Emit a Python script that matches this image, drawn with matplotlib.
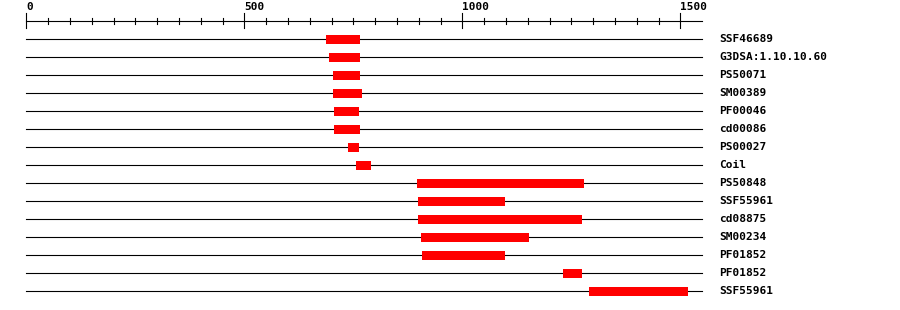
import matplotlib
matplotlib.use('Agg')
import matplotlib.pyplot as plt

# domain hits (residue start / end)
names = ['SSF46689', 'G3DSA:1.10.10.60', 'PS50071', 'SM00389', 'PF00046', 'cd00086',
         'PS00027', 'Coil', 'PS50848', 'SSF55961', 'cd08875', 'SM00234', 'PF01852',
         'PF01852', 'SSF55961']
starts = [687, 694, 703, 703, 706, 706, 738, 756, 896, 898, 898, 905, 907, 1231, 1291]
ends = [765, 765, 765, 770, 763, 765, 763, 791, 1279, 1098, 1275, 1153, 1098, 1275, 1517]
seq_len = 1549
major_ticks = [0, 500, 1000, 1500]

px = 0.436      # pixels per residue
x0 = 26.3       # pixel of residue 0
fig = plt.figure(figsize=(9, 3.1), dpi=100)
ax = fig.add_axes([0, 0, 1, 1])
ax.set_xlim(-x0 / px, (900 - x0) / px)
# rows: row 0 at pixel 39, 18 px apart
ax.set_ylim((310 - 39) / 18, -39 / 18)
ax.axis('off')

font = dict(family='DejaVu Sans Mono', weight='bold', size=8)

# ruler
ry = (21.3 - 39) / 18
ax.plot([0, seq_len], [ry, ry], color='black', lw=0.8)
for t in range(0, 1550, 50):
    if t % 500 == 0:
        ax.plot([t, t], [ry - 8 / 18, ry + 7 / 18], color='black', lw=0.8)
    else:
        ax.plot([t, t], [ry - 3 / 18, ry + 3 / 18], color='black', lw=0.8)
for t in major_ticks:
    ax.text(t, ry - 9 / 18, str(t), ha='left', va='bottom', **font)

for i, (n, s, e) in enumerate(zip(names, starts, ends)):
    ax.plot([0, seq_len], [i, i], color='black', lw=0.8, zorder=1)
    ax.barh(i, e - s, left=s, height=9 / 18, color='red', zorder=2)
    ax.text((719 - x0) / px, i, n, ha='left', va='center', **font)

fig.savefig('out.png', dpi=100)
